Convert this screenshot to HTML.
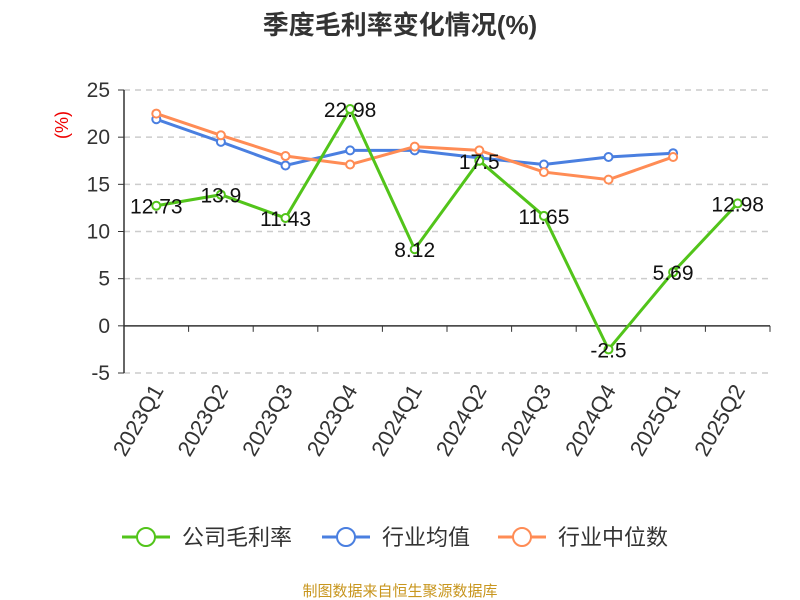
<!DOCTYPE html>
<html><head><meta charset="utf-8"><style>
body{margin:0;background:#fff;}
svg{display:block;font-family:"Liberation Sans","Noto Sans CJK SC",sans-serif;}
</style></head><body>
<svg id="chart" width="800" height="600">
<text x="400" y="34" text-anchor="middle" font-size="26" font-weight="bold" fill="#333">季度毛利率变化情况(%)</text>
<text transform="translate(68,125) rotate(-90)" text-anchor="middle" font-size="18" fill="#e00">(%)</text>
<g id="grid"></g><g id="axes"></g><g id="series"></g><g id="labels"></g>
<g>
<g><line x1="122" y1="537" x2="170" y2="537" stroke="#52c41a" stroke-width="3"/><circle cx="146" cy="537" r="9" fill="#fff" stroke="#52c41a" stroke-width="2"/><text x="182" y="545" font-size="22" fill="#333">公司毛利率</text></g>
<g><line x1="322" y1="537" x2="370" y2="537" stroke="#4a7fe0" stroke-width="3"/><circle cx="346" cy="537" r="9" fill="#fff" stroke="#4a7fe0" stroke-width="2"/><text x="382" y="545" font-size="22" fill="#333">行业均值</text></g>
<g><line x1="498" y1="537" x2="546" y2="537" stroke="#ff8c55" stroke-width="3"/><circle cx="522" cy="537" r="9" fill="#fff" stroke="#ff8c55" stroke-width="2"/><text x="558" y="545" font-size="22" fill="#333">行业中位数</text></g>
</g>
<text x="400" y="596" text-anchor="middle" font-size="15" fill="#c8961e">制图数据来自恒生聚源数据库</text>
</svg>
<script>
const categories=["2023Q1","2023Q2","2023Q3","2023Q4","2024Q1","2024Q2","2024Q3","2024Q4","2025Q1","2025Q2"];
const companyValues=[12.73,13.9,11.43,22.98,8.12,17.5,11.65,-2.5,5.69,12.98];
const meanValues=[21.9,19.5,17.0,18.6,18.6,17.8,17.1,17.9,18.3,null];
const medianValues=[22.5,20.2,18.0,17.1,19.0,18.6,16.3,15.5,17.9,null];
const yTicks=[-5,0,5,10,15,20,25];
const NS="http://www.w3.org/2000/svg";
const L=124,R=770,T=90,B=373,yMin=-5,yMax=25;
const bw=(R-L)/categories.length;
const xs=i=>L+bw*(i+0.5);
const ys=v=>B-(v-yMin)/(yMax-yMin)*(B-T);
function mk(tag,attrs,parent){const e=document.createElementNS(NS,tag);for(const k in attrs)e.setAttribute(k,attrs[k]);parent.appendChild(e);return e;}
const grid=document.getElementById('grid'),axes=document.getElementById('axes'),ser=document.getElementById('series'),lab=document.getElementById('labels');
yTicks.forEach(t=>{
 if(t!==0){const g=mk('line',{x1:L,x2:R,y1:ys(t),y2:ys(t),stroke:'#ccc','stroke-dasharray':'6,5','stroke-width':1.5},grid);
 
 }
 const tk=mk('line',{x1:L-6,x2:L,y1:ys(t),y2:ys(t),stroke:'#333'},axes);
 
 
 const tx=mk('text',{x:L-14,y:ys(t)+7,'text-anchor':'end','font-size':21,fill:'#333'},axes);tx.textContent=t;
 
 
});
const ya=mk('line',{x1:L,x2:L,y1:T,y2:B,stroke:'#333','stroke-width':1.5},axes);


const xa=mk('line',{x1:L,x2:R,y1:ys(0),y2:ys(0),stroke:'#333','stroke-width':1.5},axes);


for(let i=0;i<=categories.length;i++){const tk=mk('line',{x1:L+bw*i,x2:L+bw*i,y1:ys(0),y2:ys(0)+6,stroke:'#333'},axes);
 
 }
categories.forEach((c,i)=>{
 const x=xs(i)+8,y=390;
 const t=mk('text',{x:x,y:y,'text-anchor':'end','font-size':22,fill:'#333',transform:`rotate(-60 ${x} ${y})`},axes);t.textContent=c;
 
 
});
function drawSeries(vals,color,name){
 const pts=vals.map((v,i)=>v==null?null:[xs(i),ys(v)]).filter(p=>p);
 const pl=mk('polyline',{points:pts.map(p=>p.join(',')).join(' '),fill:'none',stroke:color,'stroke-width':3},ser);
 
 
 pts.forEach(p=>{const c=mk('circle',{cx:p[0],cy:p[1],r:4,fill:'#fff',stroke:color,'stroke-width':2},ser);
 
 });
}
drawSeries(meanValues,'#4a7fe0','industry-mean');
drawSeries(medianValues,'#ff8c55','industry-median');
drawSeries(companyValues,'#52c41a','company-margin');
companyValues.forEach((v,i)=>{
 const t=mk('text',{x:xs(i),y:ys(v)+8,'text-anchor':'middle','font-size':21,fill:'#111'},lab);t.textContent=v;
 
 
});
</script>
</body></html>
